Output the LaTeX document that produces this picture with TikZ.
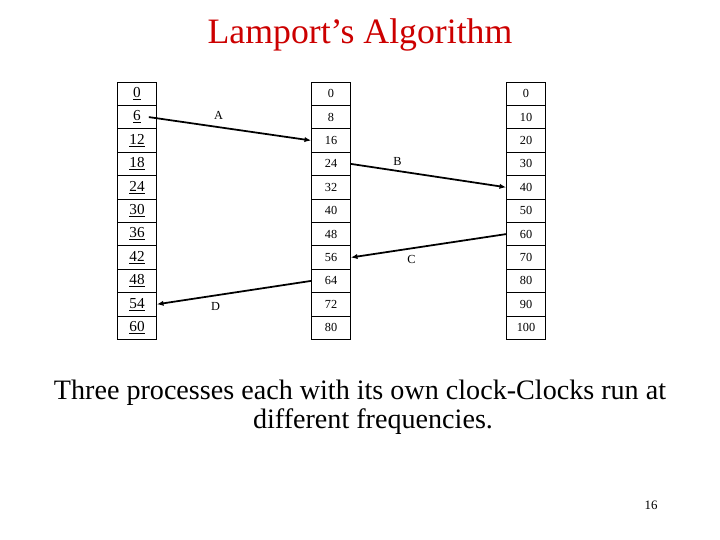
\documentclass[tikz,border=0pt]{standalone}
\usepackage{fontspec}
\setmainfont{Liberation Serif}
\usetikzlibrary{arrows.meta,calc,positioning}
\definecolor{lamptitle}{HTML}{CC0000}
\tikzset{
  every picture/.style={font=\rmfamily},
  cell/.style={draw=black,line width=0.6pt,minimum width=1.17cm,
    minimum height=0.70cm,inner sep=0pt},
  slow cell/.style={cell,font=\fontsize{13}{15}\selectfont},
  fast cell/.style={cell,font=\fontsize{10.5}{12}\selectfont},
  msg/.style={draw=black,line width=1.5pt,
    -{Latex[length=2mm,width=1.6mm]}},
  msg label/.style={inner sep=1pt,font=\fontsize{10.5}{12}\selectfont},
}

\begin{document}
\begin{tikzpicture}[x=0.03cm,y=-0.03cm]
  \path[use as bounding box] (0,0) rectangle (720,540);
  \node[text=lamptitle,font=\fontsize{30.5}{34}\selectfont] (title) at (360,35) {Lamport's Algorithm};
  % three clock columns, one cell per tick
  \foreach \v [count=\i from 0] in {0,6,...,60}
    {\node[slow cell] (L\i) at (137,{82+23.4*(\i+0.5)}) {\underline{\v}};}
  \foreach \v [count=\i from 0] in {0,8,...,80}
    {\node[fast cell] (M\i) at (331,{82+23.4*(\i+0.5)}) {\v};}
  \foreach \v [count=\i from 0] in {0,10,...,100}
    {\node[fast cell] (R\i) at (526,{82+23.4*(\i+0.5)}) {\v};}
  % messages between the processes
  \draw[msg] ([xshift=-0.24cm]L1.east) -- node[msg label,pos=0.43,above=5pt]{A} (M2.west);
  \draw[msg] (M3.east) -- node[msg label,pos=0.3,above=3pt]{B} (R4.west);
  \draw[msg] (R6.west) -- node[msg label,pos=0.61,below=4pt]{C} (M7.east);
  \draw[msg] (M8.west) -- node[msg label,pos=0.62,below=4pt]{D} (L9.east);
  \node[align=center,font=\rmfamily\fontsize{24}{24.5}\selectfont] (caption) at (360,407)
    {Three processes each with its own clock-Clocks run at\\\hspace*{0.78cm}different frequencies.};
  \node[font=\fontsize{11}{13}\selectfont] (page) at (651,505) {16};
\end{tikzpicture}
\end{document}
